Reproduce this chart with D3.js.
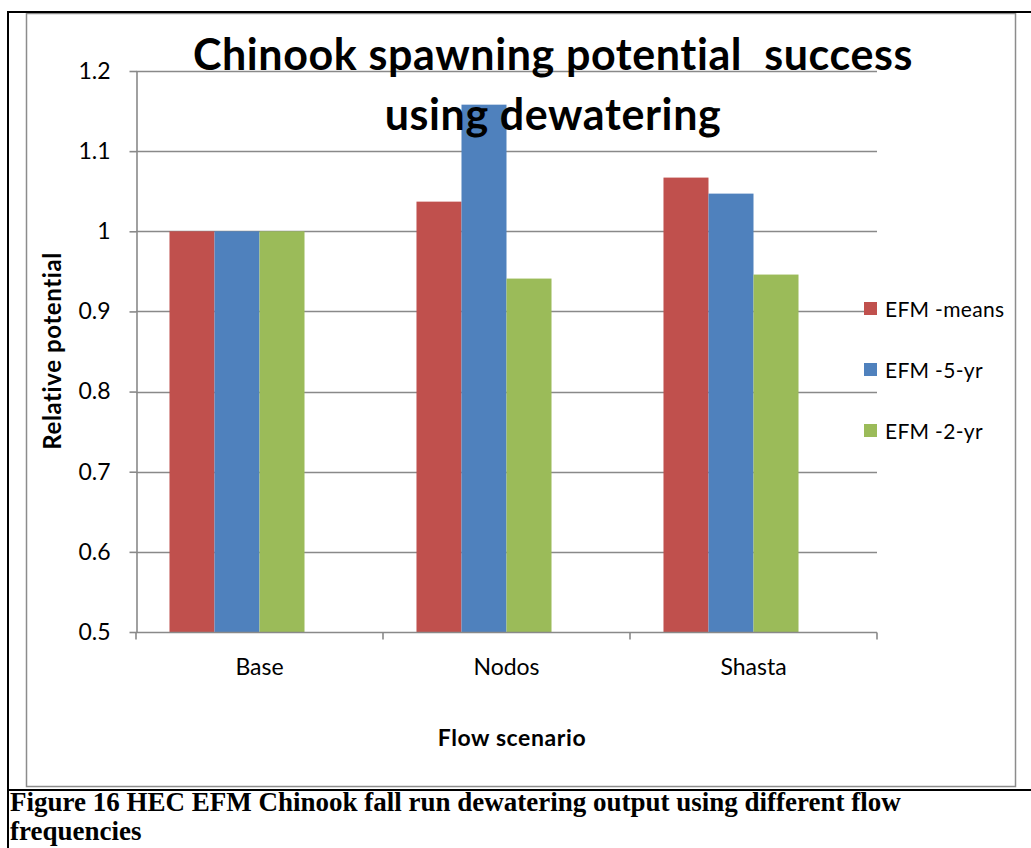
<!DOCTYPE html>
<html>
<head>
<meta charset="utf-8">
<script src="https://cdn.jsdelivr.net/npm/d3@7"></script>
<style>
  html, body { margin: 0; padding: 0; background: #fff; }
  svg { display: block; }
</style>
</head>
<body>
<svg id="chart" width="1031" height="848"></svg>
<script>
// Flow scenarios on the x axis
const categories = ["Base", "Nodos", "Shasta"];
// Series (legend order)
const seriesNames = ["EFM -means", "EFM -5-yr", "EFM -2-yr"];
const seriesColors = ["#C0504D", "#4F81BD", "#9BBB59"];
// Relative potential per scenario, one array per series
const efmMeans = [1.000, 1.037, 1.067];
const efm5yr   = [1.000, 1.158, 1.047];
const efm2yr   = [1.000, 0.941, 0.946];
const seriesValues = [efmMeans, efm5yr, efm2yr];
// Value axis ticks
const yTicks = [0.5, 0.6, 0.7, 0.8, 0.9, 1.0, 1.1, 1.2];
const yTickLabels = ["0.5", "0.6", "0.7", "0.8", "0.9", "1", "1.1", "1.2"];

const titleLines = ["Chinook spawning potential\u00A0 success", "using dewatering"];
const xTitle = "Flow scenario";
const yTitle = "Relative potential";
const captionLines = [
  "Figure 16 HEC EFM Chinook fall run dewatering output using different flow",
  "frequencies"
];

const svg = d3.select("#chart");
const W = 1031, H = 848;
const plot = { left: 136, right: 877, top: 71, bottom: 632 };
const gridColor = "#898989";
const font = "Lato, 'Open Sans', sans-serif";

svg.append("rect").attr("width", W).attr("height", H).attr("fill", "#fff");

// Chart frame
svg.append("rect")
  .attr("x", 26.5).attr("y", 13.5).attr("width", 989).attr("height", 773)
  .attr("fill", "none").attr("stroke", "#8c8c8c").attr("stroke-width", 1.5);

// Surrounding table rules
const rules = svg.append("g").attr("stroke", "#000").attr("stroke-width", 2);
rules.append("line").attr("x1", 7).attr("x2", W).attr("y1", 12).attr("y2", 12);
rules.append("line").attr("x1", 8).attr("x2", 8).attr("y1", 11).attr("y2", H);
rules.append("line").attr("x1", 7).attr("x2", W).attr("y1", 790).attr("y2", 790);

// Scales
const x0 = d3.scaleBand().domain(categories).range([plot.left, plot.right]).padding(0);
// four cluster slots per category; the last one carries no data
const slots = seriesNames.concat(["__unused"]);
const x1 = d3.scaleBand().domain(slots).range([0, x0.bandwidth()])
  .paddingInner(0).paddingOuter(0.744);
const y = d3.scaleLinear().domain([0.5, 1.2]).range([plot.bottom, plot.top]);

// Horizontal gridlines
svg.append("g").selectAll("line").data(yTicks.filter(v => v > 0.5)).join("line")
  .attr("x1", plot.left).attr("x2", plot.right)
  .attr("y1", d => Math.round(y(d)) + 0.5).attr("y2", d => Math.round(y(d)) + 0.5)
  .attr("stroke", gridColor).attr("stroke-width", 1.6);

// Bars
const groups = svg.append("g").selectAll("g").data(categories).join("g")
  .attr("transform", d => `translate(${x0(d)},0)`);
groups.selectAll("rect")
  .data((c, i) => seriesNames.map((s, k) => ({ s, k, v: seriesValues[k][i] })))
  .join("rect")
  .attr("x", d => x1(d.s))
  .attr("width", x1.bandwidth())
  .attr("y", d => y(d.v))
  .attr("height", d => y(0.5) - y(d.v))
  .attr("fill", d => seriesColors[d.k]);

// Y axis
const yAxis = d3.axisLeft(y).tickValues(yTicks)
  .tickFormat((d, i) => yTickLabels[i]).tickSizeOuter(0).tickSizeInner(7).tickPadding(19);
const gy = svg.append("g").attr("transform", `translate(${plot.left + 0.5},0)`).call(yAxis);
gy.select(".domain").attr("stroke", gridColor).attr("stroke-width", 1.6);
gy.selectAll(".tick line").attr("stroke", gridColor).attr("stroke-width", 1.6);
gy.selectAll(".tick text").attr("font-family", font).attr("font-size", 23).attr("fill", "#000");

// X axis: ticks sit on category boundaries
const xb = d3.scaleLinear().domain([0, categories.length]).range([plot.left, plot.right]);
const gx = svg.append("g").attr("transform", `translate(0,${plot.bottom + 0.5})`);
gx.append("line").attr("x1", plot.left).attr("x2", plot.right)
  .attr("stroke", gridColor).attr("stroke-width", 1.6);
gx.selectAll(".bt").data(d3.range(categories.length + 1)).join("line").attr("class", "bt")
  .attr("x1", d => xb(d)).attr("x2", d => xb(d)).attr("y1", 0).attr("y2", 7)
  .attr("stroke", gridColor).attr("stroke-width", 1.6);
gx.selectAll("text").data(categories).join("text")
  .attr("x", d => x0(d) + x0.bandwidth() / 2).attr("y", 42)
  .attr("text-anchor", "middle").attr("font-family", font).attr("font-size", 23)
  .text(d => d);

// Axis titles
svg.append("text").attr("x", 512).attr("y", 746).attr("text-anchor", "middle")
  .attr("font-family", font).attr("font-weight", "bold").attr("font-size", 23)
  .attr("letter-spacing", 0.6).text(xTitle);
svg.append("text").attr("transform", "translate(61,351) rotate(-90)")
  .attr("text-anchor", "middle").attr("font-family", font).attr("font-weight", "bold")
  .attr("font-size", 24).attr("letter-spacing", 0.6).text(yTitle);

// Legend
const legend = svg.append("g").attr("transform", "translate(864,0)");
const ly = d3.scalePoint().domain(seriesNames).range([309, 431]);
legend.selectAll("rect").data(seriesNames).join("rect")
  .attr("x", 0).attr("y", d => ly(d) - 7).attr("width", 13).attr("height", 13)
  .attr("fill", (d, i) => seriesColors[i]);
legend.selectAll("text").data(seriesNames).join("text")
  .attr("x", 21).attr("y", d => ly(d) + 7.5)
  .attr("font-family", font).attr("font-size", 21).attr("letter-spacing", 0.3).text(d => d);

// Title, drawn over the plot
svg.append("g").selectAll("text").data(titleLines).join("text")
  .attr("x", 553).attr("y", (d, i) => 70 + i * 60)
  .attr("text-anchor", "middle").attr("font-family", font).attr("font-weight", "bold")
  .attr("font-size", 43).attr("letter-spacing", 0.6).attr("fill", "#000").text(d => d);

// Caption below the chart
svg.append("g").selectAll("text").data(captionLines).join("text")
  .attr("x", 10).attr("y", (d, i) => 811 + i * 29)
  .attr("font-family", "'Liberation Serif', 'Times New Roman', serif")
  .attr("font-weight", "bold").attr("font-size", 27).text(d => d);
</script>
</body>
</html>
